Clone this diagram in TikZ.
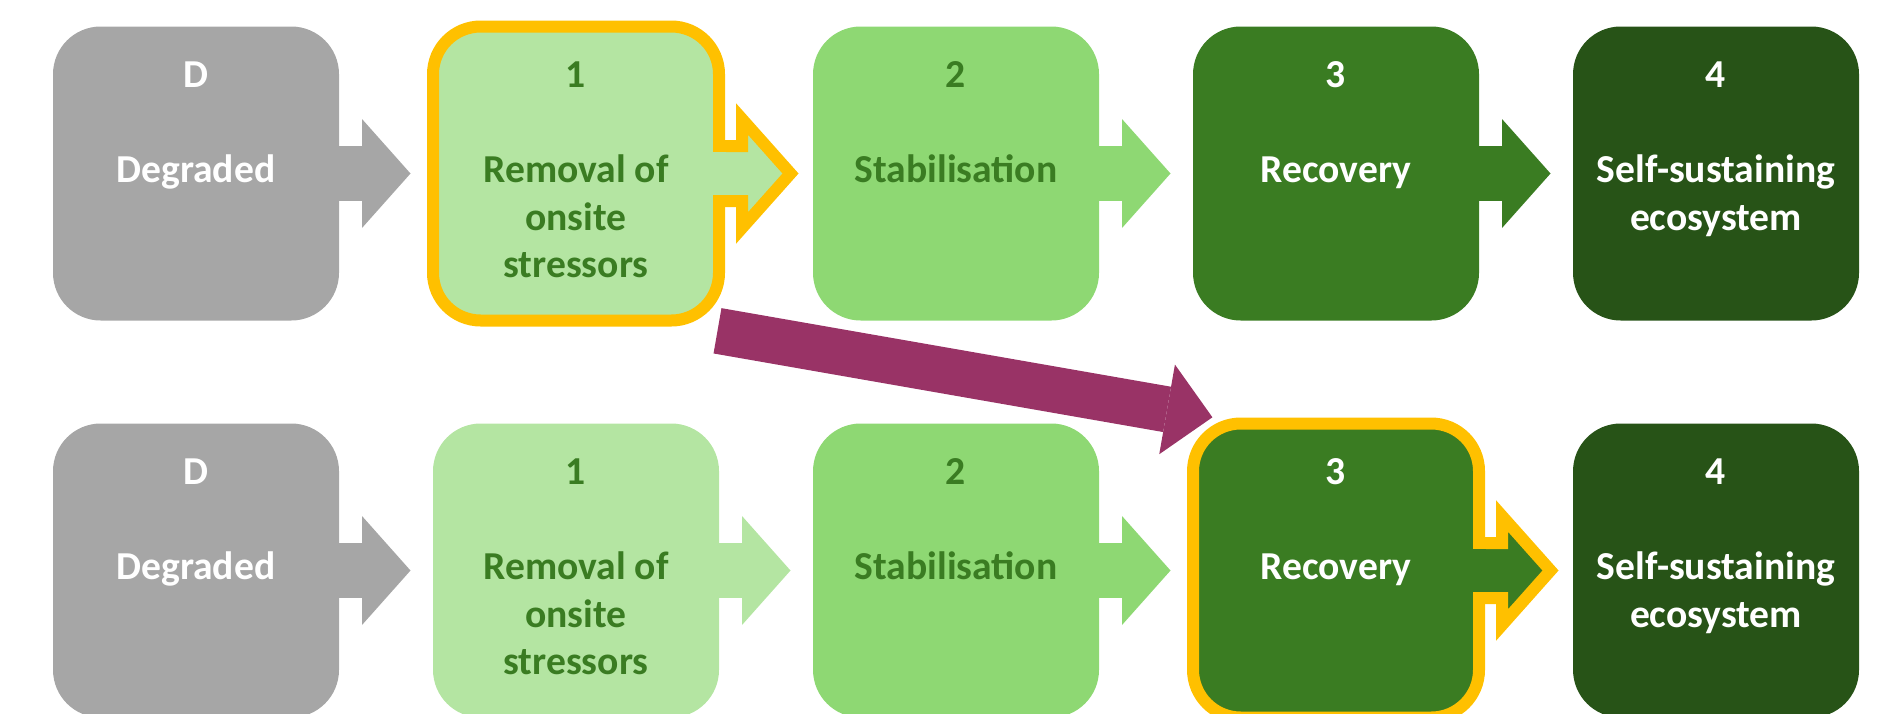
\documentclass[tikz,border=0pt]{standalone}
\usepackage{fontspec}
\setmainfont{Carlito}
\usetikzlibrary{arrows.meta}

\definecolor{greyD}{HTML}{A6A6A6}
\definecolor{greenA}{HTML}{B4E5A2}
\definecolor{greenB}{HTML}{8ED873}
\definecolor{greenC}{HTML}{3A7C22}
\definecolor{greenD}{HTML}{275317}
\definecolor{hlyellow}{HTML}{FFC000}
\definecolor{plum}{HTML}{993366}

\tikzset{
	stage/.style={rectangle, rounded corners=23.85pt, minimum width=143pt, minimum height=147pt, inner sep=0pt, outer sep=0pt},
	hl/.style={draw=hlyellow, line width=6pt, line join=miter},
	numtxt/.style={font=\bfseries\fontsize{19.8}{23.75}\selectfont, anchor=base, inner sep=0pt},
	labtxt/.style={font=\bfseries\fontsize{19.8}{23.75}\selectfont, align=center, anchor=north, inner sep=0pt},
	stagearrow/.style={draw=#1, line width=27.5pt, shorten >=11.25pt, -{Triangle[length=24.25pt, width=54.5pt, line width=0pt]}},
	jump/.style={draw=plum, line width=23pt, -{Triangle[length=23pt, width=45.5pt, line width=0pt]}}
}

\begin{document}
\begin{tikzpicture}[x=0.5pt,y=-0.5pt]
	\useasboundingbox (0,0) rectangle (1893,713);
	\def\pitch{380}
	
	% row t: stage 1 marked, row b: stage 3 marked
	\foreach \r/\cy/\h in {t/173.5/1, b/570.5/3}
	{
		\foreach \i/\fc in {0/greyD,1/greenA,2/greenB,3/greenC,4/greenD}
		{
			\ifnum\i=\h
				\node[stage, fill=\fc, hl] (\r\i) at ({196+\pitch*\i},\cy) {};
			\else
				\node[stage, fill=\fc] (\r\i) at ({196+\pitch*\i},\cy) {};
			\fi
		}
		
		\foreach \i/\j/\fc in {0/1/greyD,1/2/greenA,2/3/greenB,3/4/greenC}
		{
			\ifnum\i=\h
				\draw[fill=\fc, hl] (\r\i.east) ++(0,-27.5) -- ++(23,0) -- ++(0,-27) -- ++(48.5,54.5) -- ++(-48.5,54.5) -- ++(0,-27) -- ++(-23,0) -- cycle;
				\fill[\fc] ([shift={(-7,-21.5)}]\r\i.east) rectangle ([shift={(7,21.5)}]\r\i.east);
			\else
				\draw[stagearrow=\fc] (\r\i.east) -- (\r\j.west);
			\fi
		}
		
		\foreach \i/\num/\lab/\tc in {0/D/Degraded/white, 1/1/{Removal of\\onsite\\stressors}/greenC, 2/2/Stabilisation/greenC, 3/3/Recovery/white, 4/4/{Self-sustaining\\ecosystem}/white}
		{
			\node[numtxt, text=\tc] (\r\i-num) at ([yshift=-30.5pt]\r\i.north) {\num};
			\node[labtxt, text=\tc] (\r\i-lab) at ([yshift=10.5pt]\r\i.center) {\rule{0pt}{15pt}\lab};
		}
	}
	
	% jump from stage 1 straight to stage 3
	\coordinate (jtail) at ([shift={(-1.5,10.3)}]t1.south east);
	\coordinate (jtip) at ([shift={(19.4,-6.2)}]b3.north west);
	\draw[jump] (jtail) -- (jtip);
	
\end{tikzpicture}
\end{document}
